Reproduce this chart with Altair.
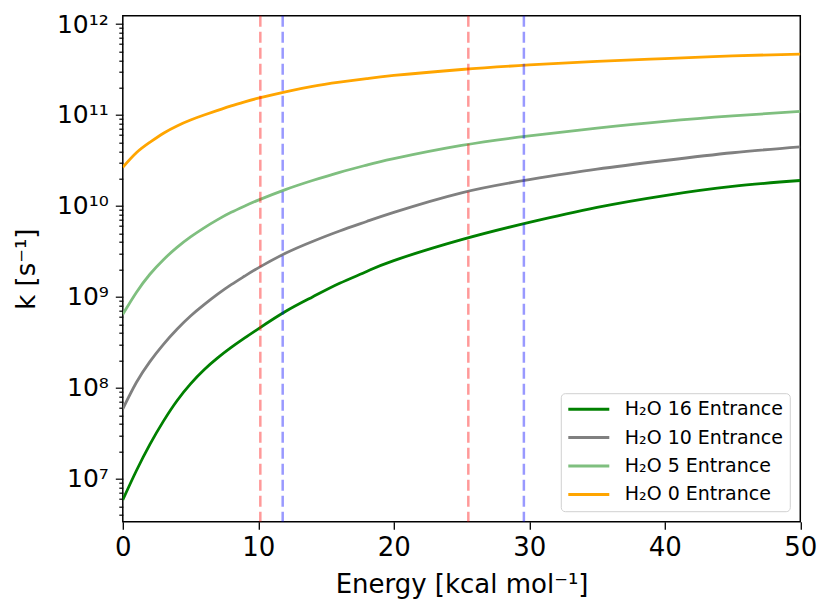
import altair as alt
import pandas as pd

# ---- data ----
energy = [0, 1, 2, 3, 4, 5, 6, 7, 8, 9, 10, 12, 14, 16, 18, 20, 25, 30, 35, 40, 45, 50]
k_h2o16 = [5.89e6, 1.23e7, 2.40e7, 4.32e7, 7.24e7, 1.109e8, 1.585e8, 2.138e8, 2.786e8, 3.548e8,
           4.467e8, 6.918e8, 1.0e9, 1.413e9, 1.905e9, 2.512e9, 4.266e9, 6.607e9, 9.66e9,
           1.303e10, 1.641e10, 1.905e10]
k_h2o10 = [5.888e7, 1.148e8, 1.950e8, 3.020e8, 4.416e8, 6.166e8, 8.222e8, 1.072e9, 1.365e9,
           1.698e9, 2.089e9, 3.020e9, 4.074e9, 5.309e9, 6.761e9, 8.511e9, 1.396e10, 1.950e10,
           2.541e10, 3.162e10, 3.846e10, 4.467e10]
k_h2o5 = [6.457e8, 1.122e9, 1.778e9, 2.570e9, 3.508e9, 4.571e9, 5.754e9, 7.079e9, 8.511e9,
          1.0e10, 1.161e10, 1.514e10, 1.905e10, 2.344e10, 2.818e10, 3.311e10, 4.624e10,
          5.888e10, 7.161e10, 8.511e10, 9.772e10, 1.096e11]
k_h2o0 = [2.661e10, 3.846e10, 5.012e10, 6.310e10, 7.586e10, 8.810e10, 1.0e11, 1.122e11,
          1.259e11, 1.396e11, 1.531e11, 1.799e11, 2.065e11, 2.291e11, 2.512e11, 2.723e11,
          3.162e11, 3.548e11, 3.890e11, 4.169e11, 4.467e11, 4.677e11]

series_names = ["H\u2082O 16 Entrance", "H\u2082O 10 Entrance", "H\u2082O 5 Entrance", "H\u2082O 0 Entrance"]
series_colors = ["#008000", "#808080", "#7fbf7f", "#ffa500"]

vline_energy = [10.15, 11.8, 25.5, 29.6]
vline_colors = ["red", "blue", "red", "blue"]

x_ticks = [0, 10, 20, 30, 40, 50]
y_major = [1e7, 1e8, 1e9, 1e10, 1e11, 1e12]
y_major_labels = ["10\u2077", "10\u2078", "10\u2079", "10\u00b9\u2070", "10\u00b9\u00b9", "10\u00b9\u00b2"]
y_minor = [m * 10.0 ** p for p in range(6, 12) for m in range(2, 10)]
y_domain = [3.39e6, 1.234e12]
y_minor = [v for v in y_minor if y_domain[0] <= v <= y_domain[1]]

# ---- tables ----
rows = []
for name, vals in zip(series_names, [k_h2o16, k_h2o10, k_h2o5, k_h2o0]):
    for e, k in zip(energy, vals):
        rows.append({"energy": e, "k": k, "series": name})
df = pd.DataFrame(rows)
df_v = pd.DataFrame({"energy": vline_energy, "color": vline_colors})

label_expr = " : ".join(
    f"abs(datum.value / {v:.0e} - 1) < 1e-6 ? '{l}'" for v, l in zip(y_major, y_major_labels)
) + " : ''"
major_test = "abs(log(datum.value) / LN10 - round(log(datum.value) / LN10)) < 1e-6"

FONT = "DejaVu Sans"
W, H = 677.5, 506

x_enc = alt.X(
    "energy:Q",
    scale=alt.Scale(domain=[0, 50], nice=False, zero=False),
    axis=alt.Axis(
        values=x_ticks, title="Energy [kcal mol\u207b\u00b9]", grid=False, domain=False,
        tickSize=7.5, tickWidth=1.3, tickColor="black",
        labelFontSize=26, labelColor="black", labelFont=FONT, labelPadding=5,
        labelFlush=False, labelOverlap=False,
        titleFontSize=26, titleFont=FONT, titleFontWeight="normal", titleColor="black",
        titleY=71, titleBaseline="alphabetic",
    ),
)

y_enc = alt.Y(
    "k:Q",
    scale=alt.Scale(type="log", domain=y_domain, nice=False),
    axis=alt.Axis(
        values=y_major + y_minor, labelExpr=label_expr, grid=False, domain=False,
        tickSize={"condition": {"test": major_test, "value": 7.5}, "value": 4},
        tickWidth=1.2, tickColor="black",
        labelFontSize=25, labelColor="black", labelFont=FONT, labelPadding=7,
        labelFlush=False, labelOverlap=False, labelBound=False,
        title="k [s\u207b\u00b9]", titleFontSize=26, titleFont=FONT, titleFontWeight="normal",
        titleColor="black", titleAngle=270, titleX=-96, titleY=H / 2,
        titleAlign="center", titleBaseline="middle",
    ),
)

lines = alt.Chart(df).mark_line(strokeWidth=2.8, interpolate="natural", clip=True).encode(
    x=x_enc,
    y=y_enc,
    color=alt.Color(
        "series:N",
        scale=alt.Scale(domain=series_names, range=series_colors),
        legend=alt.Legend(
            title=None, orient="none", legendX=438, legendY=377.5,
            symbolType="stroke", symbolSize=1681, symbolStrokeWidth=3,
            labelFontSize=19, labelFont=FONT, labelColor="black", labelOffset=14,
            clipHeight=20, rowPadding=8.4, padding=6,
            strokeColor="#d0d0d0", fillColor="white", cornerRadius=4,
        ),
    ),
    order=alt.Order("series:N"),
)

vlines = alt.Chart(df_v).mark_rule(strokeWidth=2.5, strokeDash=[11, 5], strokeOpacity=0.4).encode(
    x="energy:Q",
    color=alt.Color("color:N", scale=None),
)

chart = alt.layer(lines, vlines).properties(
    width=W, height=H,
    autosize=alt.AutoSizeParams(type="none"),
    padding={"left": 114.8, "top": 7.7, "right": 20, "bottom": 80},
).configure(font=FONT).configure_view(stroke="black", strokeWidth=1.5)

chart.save("out.html", embed_options={"renderer": "svg", "actions": False})
